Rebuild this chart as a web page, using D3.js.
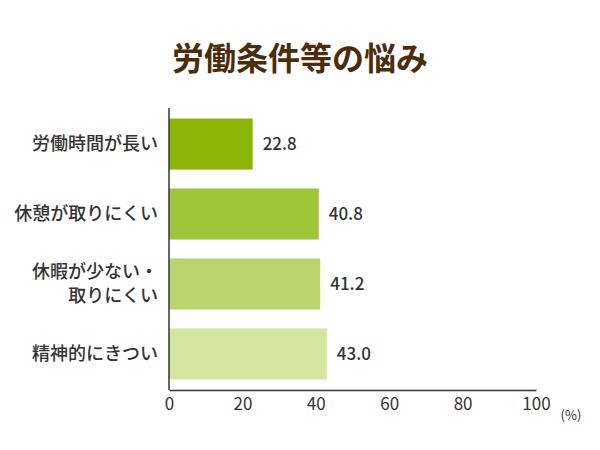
<!DOCTYPE html>
<html lang="ja">
<head>
<meta charset="UTF-8">
<script src="https://d3js.org/d3.v7.min.js"></script>
<style>
  body { margin: 0; background: #fff; }
  text { font-family: "Noto Sans CJK JP", "Noto Sans", sans-serif; }
</style>
</head>
<body>
<div id="chart"></div>
<script>
const title = "労働条件等の悩み";
const categories = [["労働時間が長い"], ["休憩が取りにくい"], ["休暇が少ない・", "取りにくい"], ["精神的にきつい"]];
const values = [22.8, 40.8, 41.2, 43.0];
const colors = ["#8cb50a", "#9fc639", "#b9d46c", "#d3e6a0"];
const ticks = [0, 20, 40, 60, 80, 100];

const svg = d3.select("#chart").append("svg").attr("width", 600).attr("height", 450);
const margin = {top: 108, left: 169, right: 64, bottom: 60};
const width = 600 - margin.left - margin.right;
const height = 450 - margin.top - margin.bottom;
const g = svg.append("g").attr("transform", `translate(${margin.left},${margin.top})`);

svg.append("text").attr("x", 300).attr("y", 70).attr("text-anchor", "middle")
  .style("font-size", "32px").style("font-weight", "bold").style("fill", "#4b2c0c")
  .text(title);

const x = d3.scaleLinear().domain([0, 100]).range([0, width]);
const y = d3.scaleBand().domain(d3.range(values.length)).range([0, height]).paddingInner(0.27).paddingOuter(0.15);

g.selectAll(".bar").data(values).enter().append("rect")
  .attr("x", 0).attr("y", (d, i) => y(i))
  .attr("width", d => x(d)).attr("height", y.bandwidth())
  .attr("fill", (d, i) => colors[i]);

g.selectAll(".val").data(values).enter().append("text")
  .attr("x", d => x(d) + 10).attr("y", (d, i) => y(i) + y.bandwidth() / 2)
  .attr("dy", "0.35em").style("font-size", "17px").style("font-weight", "500").style("fill", "#333")
  .text(d => d.toFixed(1));

categories.forEach((lines, i) => {
  const t = g.append("text").attr("x", -11).attr("text-anchor", "end")
    .style("font-size", "18px").style("font-weight", "500").style("fill", "#333");
  const cy = y(i) + y.bandwidth() / 2;
  lines.forEach((l, k) => {
    t.append("tspan").attr("x", -11)
      .attr("y", cy + (k - (lines.length - 1) / 2) * 24).attr("dy", "0.35em").text(l);
  });
});

const xAxis = g.append("g").attr("transform", `translate(0,${height})`)
  .call(d3.axisBottom(x).tickValues(ticks).tickSize(0).tickPadding(8));
xAxis.select(".domain").attr("stroke", "#333").attr("stroke-width", 1.5);
xAxis.selectAll("text").style("font-size", "17px").style("fill", "#333")
  .style("font-family", "'Noto Sans CJK JP', sans-serif");

g.append("line").attr("x1", 0).attr("x2", 0).attr("y1", 0).attr("y2", height)
  .attr("stroke", "#333").attr("stroke-width", 1.5);

svg.append("text").attr("x", 571).attr("y", 420).attr("text-anchor", "middle")
  .style("font-size", "13px").style("fill", "#333").text("(%)");
</script>
</body>
</html>
